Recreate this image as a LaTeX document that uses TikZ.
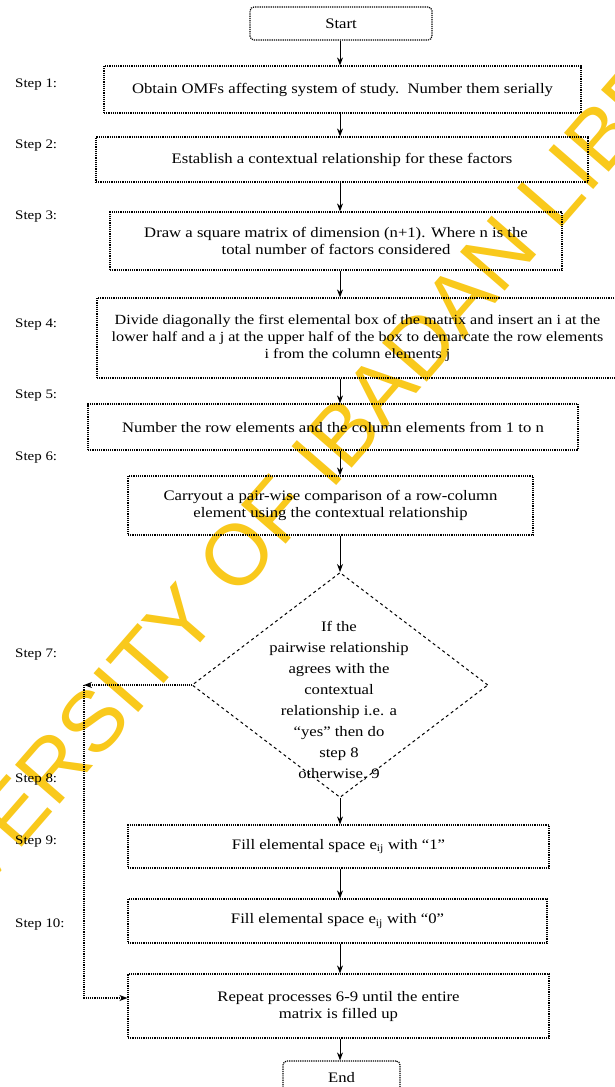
\documentclass[tikz,border=0pt]{standalone}
\usepackage{fontspec}
\setmainfont{Liberation Serif}[FakeStretch=1.15]
\newfontfamily\wmfont{Liberation Sans}
\usetikzlibrary{arrows.meta,shapes.geometric,calc}
\definecolor{wmyellow}{RGB}{249,201,28}
\tikzset{
  stepbox/.style={draw, densely dotted, line width=1.2pt, rectangle, inner sep=0pt, align=center},
  endbox/.style={stepbox, rounded corners=4pt},
  steplabel/.style={anchor=west, inner sep=0pt, font=\fontsize{13}{15}\selectfont},
  flow/.style={line width=0.9pt, -{Stealth[length=8pt,width=6pt]}},
  loopline/.style={line width=1.2pt, densely dotted},
}
\begin{document}
\begin{tikzpicture}[x=1pt, y=-1pt, font=\fontsize{14.5}{17}\selectfont]
\useasboundingbox (0,0) rectangle (614,1087);
\fill[white] (0,0) rectangle (614,1087);

% library watermark behind the chart
\node[text=wmyellow, font=\wmfont\fontsize{86}{86}\selectfont, rotate=49, inner sep=0pt]
  (wm) at (318,462) {UNIVERSITY OF IBADAN LIBRARY};

% process boxes
\node[endbox, minimum width=182pt, minimum height=33pt] (start) at (341,23.5) {Start};
\node[stepbox, minimum width=477pt, minimum height=47pt] (b1) at (342.5,89.5)
  {Obtain OMFs affecting system of study.\ \ Number them serially};
\node[stepbox, minimum width=492pt, minimum height=45pt] (b2) at (342,159.5)
  {Establish a contextual relationship for these factors};
\node[stepbox, minimum width=452pt, minimum height=58pt] (b3) at (336,241)
  {Draw a square matrix of dimension (n+1). Where n is the\\ total number of factors considered};
\node[stepbox, minimum width=521pt, minimum height=80pt, font=\fontsize{14}{17}\selectfont]
  (b4) at (357.5,338)
  {Divide diagonally the first elemental box of the matrix and insert an i at the\\
   lower half and a j at the upper half of the box to demarcate the row elements\\
   i from the column elements j};
\node[stepbox, minimum width=490pt, minimum height=46pt] (b5) at (333,427)
  {Number the row elements and the column elements from 1 to n};
\node[stepbox, minimum width=405pt, minimum height=59pt] (b6) at (330.5,505.5)
  {Carryout a pair-wise comparison of a row-column\\ element using the contextual relationship};
\node[diamond, draw, dashed, line width=1pt, minimum width=296pt, minimum height=225pt,
  inner sep=0pt] (dec) at (340,685) {};
\node[align=center, font=\fontsize{14.5}{21}\selectfont] (dectext) at (339,701)
  {If the\\ pairwise relationship\\ agrees with the\\ contextual\\ relationship i.e. a\\
   ``yes'' then do\\ step 8\\ otherwise, 9};
\node[stepbox, minimum width=421pt, minimum height=43pt] (b9) at (338.5,846.5)
  {Fill elemental space e\textsubscript{ij} with ``1''};
\node[stepbox, minimum width=419pt, minimum height=44pt] (b10) at (337.5,921)
  {Fill elemental space e\textsubscript{ij} with ``0''};
\node[stepbox, minimum width=421pt, minimum height=64pt] (rep) at (338.5,1006)
  {Repeat processes 6-9 until the entire\\ matrix is filled up};
\node[endbox, minimum width=117pt, minimum height=34pt] (end) at (341.5,1078) {End};

% step labels
\node[steplabel] (s1) at (15,85) {Step 1:};
\node[steplabel] (s2) at (15,146) {Step 2:};
\node[steplabel] (s3) at (15,217) {Step 3:};
\node[steplabel] (s4) at (15,325) {Step 4:};
\node[steplabel] (s5) at (15,396) {Step 5:};
\node[steplabel] (s6) at (15,458) {Step 6:};
\node[steplabel] (s7) at (15,655) {Step 7:};
\node[steplabel] (s8) at (15,780) {Step 8:};
\node[steplabel] (s9) at (15,842) {Step 9:};
\node[steplabel] (s10) at (15,925) {Step 10:};

% main flow
\coordinate (col) at (340,0);
\draw[flow] (col |- start.south) -- (col |- b1.north);
\draw[flow] (col |- b1.south) -- (col |- b2.north);
\draw[flow] (col |- b2.south) -- (col |- b3.north);
\draw[flow] (col |- b3.south) -- (col |- b4.north);
\draw[flow] (col |- b4.south) -- (col |- b5.north);
\draw[flow] (col |- b5.south) -- (col |- b6.north);
\draw[flow] (col |- b6.south) -- (dec.north);
\draw[flow] (dec.south) -- (col |- b9.north);
\draw[flow] (col |- b9.south) -- (col |- b10.north);
\draw[flow] (col |- b10.south) -- (col |- rep.north);
\draw[flow] (col |- rep.south) -- (col |- end.north);

% loop back from the decision
\coordinate (lp) at (84,685);
\draw[flow, densely dotted, line width=1.2pt] (dec.west) -- (lp);
\draw[loopline, -{Stealth[length=8pt,width=6pt]}] (lp) |- ([yshift=8pt]rep.west);
\end{tikzpicture}
\end{document}
